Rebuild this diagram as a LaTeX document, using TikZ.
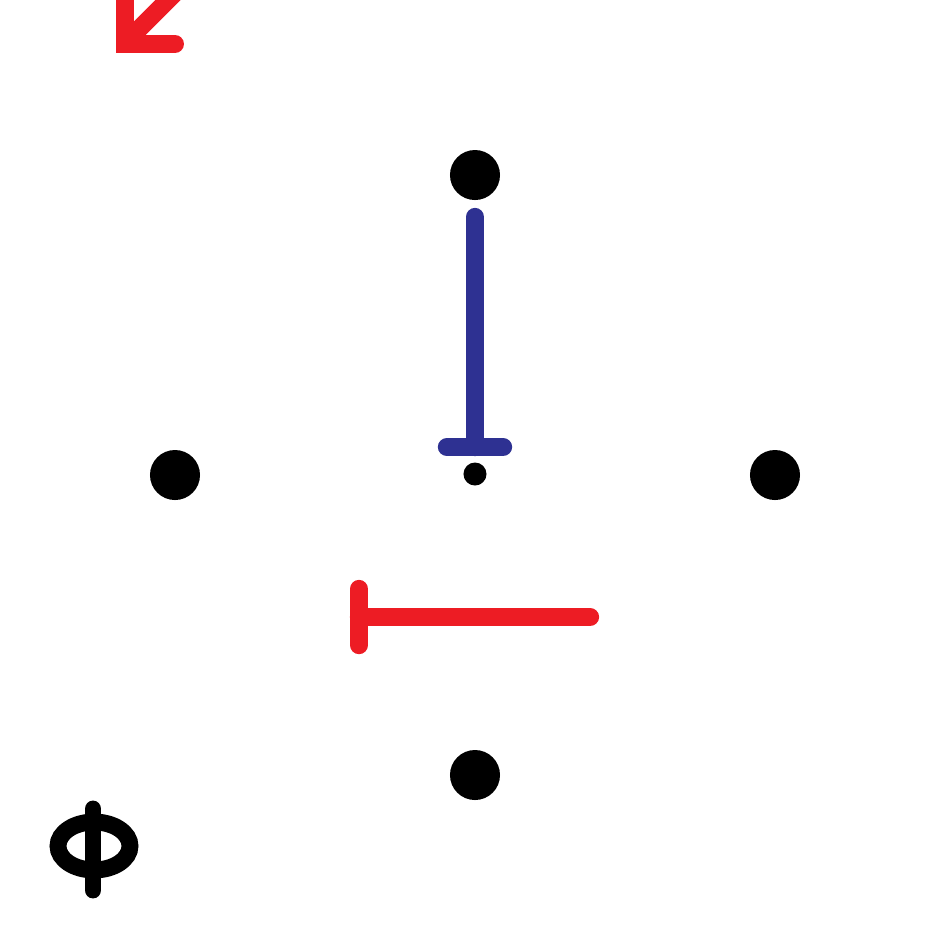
\documentclass[tikz,border=0pt]{standalone}
\usepackage{tikz}
\usetikzlibrary{positioning}
\definecolor{sigblue}{HTML}{2E3192}
\definecolor{sigred}{HTML}{ED1C24}

\begin{document}
\begin{tikzpicture}[
  x=0.01cm, y=-0.01cm,
  dot/.style={circle, fill=black, inner sep=0pt, minimum size=0.5cm},
  smalldot/.style={circle, fill=black, inner sep=0pt, minimum size=0.23cm},
  stroke/.style={line width=5.2pt, line cap=round, line join=round},
]
  \useasboundingbox (0,0) rectangle (950,950);
  \clip (0,0) rectangle (950,950);

  % lattice points
  \node[dot] (top) at (475,175) {};
  \node[dot] (left) at (175,475) {};
  \node[dot] (right) at (775,475) {};
  \node[dot] (bottom) at (475,775) {};
  \node[smalldot] (centre) at (475,474) {};

  % blue bar
  \coordinate (bstart) at (475,217);
  \coordinate (bend) at (475,447);
  \draw[stroke, sigblue] (bstart) -- (bend);
  \draw[stroke, sigblue] ([xshift=-0.28cm]bend) -- ([xshift=0.28cm]bend);

  % red bar
  \coordinate (rstart) at (590,617);
  \coordinate (rend) at (359,617);
  \draw[stroke, sigred] (rstart) -- (rend);
  \draw[stroke, sigred] ([yshift=-0.28cm]rend) -- ([yshift=0.28cm]rend);

  % red arrow (cut off)
  \draw[line width=5.1pt, sigred, line cap=round, line join=miter]
    (125,-20) -- (125,44) -- (175,44);
  \draw[line width=5.1pt, sigred] (129,39) -- (190,-22);

  % phi
  \draw[line width=4.8pt, black] (94,846) ellipse [x radius=36, y radius=24];
  \draw[line width=4.8pt, black, line cap=round] (93,809) -- (93,890);
\end{tikzpicture}
\end{document}
